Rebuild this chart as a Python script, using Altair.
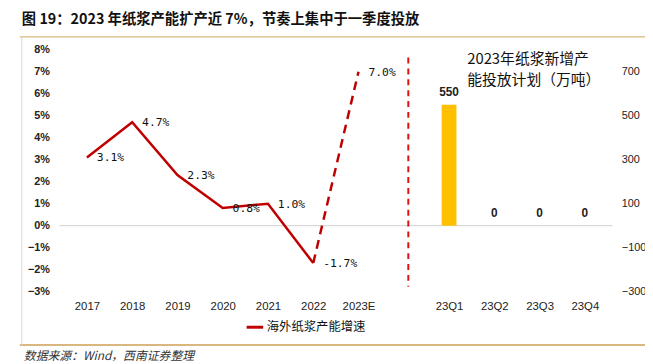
import altair as alt
import pandas as pd

# ---- data ----
years = ["2017", "2018", "2019", "2020", "2021", "2022", "2023E"]
growth = [3.1, 4.7, 2.3, 0.8, 1.0, -1.7, 7.0]
quarters = ["23Q1", "23Q2", "23Q3", "23Q4"]
capacity = [550, 0, 0, 0]
all_labels = years + [""] + quarters
series_name = "海外纸浆产能增速"
title_text = "图 19：2023 年纸浆产能扩产近 7%，节奏上集中于一季度投放"
note_lines = ["2023年纸浆新增产", "能投放计划（万吨）"]
source_text = "数据来源：Wind，西南证券整理"
separator_pos = [7.1]

line_df = pd.DataFrame({
    "idx": list(range(len(years))),
    "cat": years,
    "v": [g / 100 for g in growth],
    "series": series_name,
    "label": [f"{v:.1f}%" for v in growth],
})
solid_df = line_df.iloc[:6]
dash_df = line_df.iloc[5:]

bar_df = pd.DataFrame({
    "idx": [all_labels.index(q) for q in quarters],
    "cat": quarters,
    "cap": capacity,
})

label_map = "{" + ",".join(f"'{i}':'{c}'" for i, c in enumerate(all_labels)) + "}"

W, H = 560, 245
RED = "#C00000"
GOLD = "#FFC000"
FRAME = "#D9B77E"

x_scale = alt.Scale(domain=[-0.5, len(all_labels) - 0.5], nice=False, zero=False)
x_axis = alt.Axis(values=list(range(len(all_labels))),
                  labelExpr=f"{label_map}[''+datum.value]",
                  domain=False, ticks=False, grid=False, title=None,
                  labelFont="Liberation Sans", labelFontSize=11.5,
                  labelColor="#222", labelPadding=9)
x_enc = alt.X("idx:Q", scale=x_scale, axis=x_axis)

yL_scale = alt.Scale(domain=[-0.03, 0.08], nice=False, zero=False)
yR_scale = alt.Scale(domain=[-300, 800], nice=False, zero=False)

yL_axis = alt.Axis(values=[i / 100 for i in range(-3, 9)], format=".0%",
                   domain=False, ticks=False, grid=False, title=None,
                   labelFont="Liberation Sans", labelFontSize=11, labelFontWeight="bold",
                   labelColor="#222", labelPadding=10)
yR_axis = alt.Axis(values=[-300, -100, 100, 300, 500, 700], format="d", orient="right",
                   domain=False, ticks=False, grid=False, title=None,
                   labelFont="Liberation Sans", labelFontSize=11,
                   labelColor="#222", labelPadding=9)

zero_line = alt.Chart(pd.DataFrame({"z": [0.0]})).mark_rule(color="#D0D0D0", strokeWidth=1).encode(
    y=alt.Y("z:Q", scale=yL_scale, axis=yL_axis),
    x=alt.value(0), x2=alt.value(W))

solid = alt.Chart(solid_df).mark_line(strokeWidth=2.5).encode(
    x=x_enc,
    y=alt.Y("v:Q", scale=yL_scale, axis=yL_axis),
    color=alt.Color("series:N", scale=alt.Scale(domain=[series_name], range=[RED]),
                    legend=alt.Legend(orient="none", legendX=188, legendY=271, title=None,
                                      symbolType="stroke", symbolStrokeWidth=3, symbolSize=280,
                                      labelFont="Noto Sans CJK SC", labelFontSize=12.5,
                                      labelColor="#111", labelOffset=2)))

dashed = alt.Chart(dash_df).mark_line(strokeWidth=2.5, strokeDash=[9, 6]).encode(
    x=x_enc,
    y=alt.Y("v:Q", scale=yL_scale, axis=yL_axis),
    color=alt.Color("series:N", scale=alt.Scale(domain=[series_name], range=[RED]), legend=None))

line_labels = alt.Chart(line_df).mark_text(align="left", baseline="middle", dx=10, dy=1,
                                           font="DejaVu Sans Mono", fontSize=11.5,
                                           color="#111").encode(
    x=x_enc,
    y=alt.Y("v:Q", scale=yL_scale, axis=yL_axis),
    text="label:N")

sep = alt.Chart(pd.DataFrame({"idx": separator_pos})).mark_rule(
    color="#E01010", strokeWidth=2, strokeDash=[6, 5]).encode(
    x=x_enc,
    y=alt.value(8), y2=alt.value(240))

left_layer = alt.layer(zero_line, solid, dashed, line_labels, sep)

bars = alt.Chart(bar_df).mark_bar(color=GOLD, size=15).encode(
    x=x_enc,
    y=alt.Y("cap:Q", scale=yR_scale, axis=yR_axis),
    y2=alt.datum(0))

bar_labels = alt.Chart(bar_df).mark_text(baseline="bottom", dy=-6, font="Liberation Sans",
                                         fontSize=12, fontWeight="bold", color="#222").encode(
    x=x_enc,
    y=alt.Y("cap:Q", scale=yR_scale, axis=yR_axis),
    text=alt.Text("cap:Q", format="d"))

right_layer = alt.layer(bars, bar_labels)

note = alt.Chart(pd.DataFrame({"t": [note_lines]})).mark_text(
    align="left", baseline="top", font="Noto Sans CJK SC", fontSize=15, lineHeight=22,
    color="#111").encode(x=alt.value(413), y=alt.value(2), text="t")

title = alt.Chart(pd.DataFrame({"t": [title_text]})).mark_text(
    align="left", baseline="middle", font="Noto Sans CJK SC", fontSize=14.5, fontWeight="bold",
    color="#111").encode(x=alt.value(-38), y=alt.value(-30), text="t:N")

top_rule = alt.Chart(pd.DataFrame({"a": [0]})).mark_rule(color=FRAME, strokeWidth=1.5).encode(
    x=alt.value(-40), x2=alt.value(600), y=alt.value(-13))
bottom_rule = alt.Chart(pd.DataFrame({"a": [0]})).mark_rule(color=FRAME, strokeWidth=2).encode(
    x=alt.value(-40), x2=alt.value(600), y=alt.value(299))
left_rule = alt.Chart(pd.DataFrame({"a": [0]})).mark_rule(color="#D8D8D8", strokeWidth=1).encode(
    x=alt.value(-38), y=alt.value(-13), y2=alt.value(299))

source = alt.Chart(pd.DataFrame({"t": [source_text]})).mark_text(
    align="left", baseline="middle", font="Noto Sans CJK SC", fontSize=12, fontStyle="italic",
    color="#333").encode(x=alt.value(-36), y=alt.value(310), text="t:N")

chart = alt.layer(left_layer, right_layer, note, title, top_rule, bottom_rule, left_rule, source).resolve_scale(
    y="independent"
).properties(
    width=W, height=H,
    autosize=alt.AutoSizeParams(type="none"),
    padding={"left": 52, "top": 40, "right": 33, "bottom": 71},
).configure_view(stroke=None)

chart.save("out.html", embed_options={"renderer": "svg", "actions": False})
